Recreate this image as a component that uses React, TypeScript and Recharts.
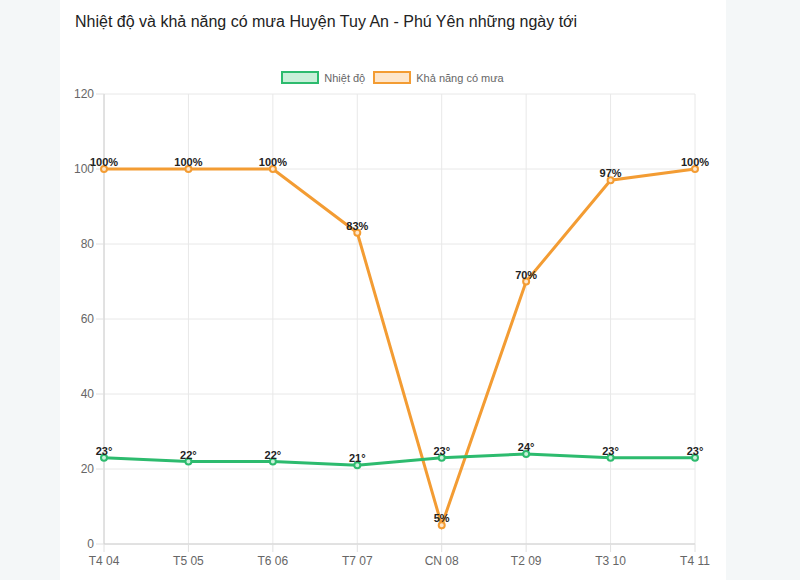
import React from "react";
import {
  LineChart,
  Line,
  XAxis,
  YAxis,
  CartesianGrid,
  LabelList,
} from "recharts";

const days = ["T4 04", "T5 05", "T6 06", "T7 07", "CN 08", "T2 09", "T3 10", "T4 11"];
const temperature = [23, 22, 22, 21, 23, 24, 23, 23];
const rainChance = [100, 100, 100, 83, 5, 70, 97, 100];
const yTicks = [0, 20, 40, 60, 80, 100, 120];

const GREEN = "#2dbb6e";
const GREEN_FILL = "#c9f0d9";
const ORANGE = "#f39c33";
const ORANGE_FILL = "#fde6cc";
const FONT = "'Liberation Sans', Arial, Helvetica, sans-serif";

const data = days.map((day, i) => ({
  day,
  temp: temperature[i],
  rain: rainChance[i],
}));

function LegendBox() {
  const items = [
    { label: "Nhiệt độ", stroke: GREEN, fill: GREEN_FILL },
    { label: "Khả năng có mưa", stroke: ORANGE, fill: ORANGE_FILL },
  ];
  return (
    <div
      style={{
        position: "absolute",
        left: 0,
        top: 71,
        width: 785,
        display: "flex",
        justifyContent: "center",
        gap: 8,
        fontFamily: FONT,
        fontSize: 11,
        color: "#666",
      }}
    >
      {items.map((it) => (
        <div key={it.label} style={{ display: "flex", alignItems: "center" }}>
          <span
            style={{
              display: "inline-block",
              width: 34,
              height: 9,
              border: `2px solid ${it.stroke}`,
              background: it.fill,
              marginRight: 5,
            }}
          />
          <span>{it.label}</span>
        </div>
      ))}
    </div>
  );
}

export default function App() {
  return (
    <div
      style={{
        position: "absolute",
        left: 0,
        top: 0,
        width: 800,
        height: 580,
        background: "#f4f7f8",
        overflow: "hidden",
      }}
    >
      <div style={{ position: "absolute", left: 60, top: 0, width: 666, height: 580, background: "#fff" }} />
      <div
        style={{
          position: "absolute",
          left: 75,
          top: 13,
          fontFamily: FONT,
          fontSize: 16,
          color: "#222",
          whiteSpace: "nowrap",
        }}
      >
        Nhiệt độ và khả năng có mưa Huyện Tuy An - Phú Yên những ngày tới
      </div>
      <LegendBox />
      <div style={{ position: "absolute", left: 0, top: 0 }}>
        <LineChart width={800} height={580} data={data} margin={{ top: 94, right: 105, left: 64, bottom: 6 }}>
          <CartesianGrid stroke="#e8e8e8" />
          <XAxis
            dataKey="day"
            height={30}
            tickSize={8}
            tickMargin={4}
            tick={{ fontSize: 12, fill: "#666", fontFamily: FONT }}
            axisLine={{ stroke: "#d0d0d0" }}
            tickLine={{ stroke: "#e0e0e0" }}
          />
          <YAxis
            width={40}
            domain={[0, 120]}
            ticks={yTicks}
            tickSize={8}
            tick={{ fontSize: 12, fill: "#666", fontFamily: FONT }}
            axisLine={{ stroke: "#d0d0d0" }}
            tickLine={{ stroke: "#e0e0e0" }}
          />
          <Line
            dataKey="rain"
            stroke={ORANGE}
            strokeWidth={3}
            dot={{ r: 3, fill: ORANGE_FILL, stroke: ORANGE, strokeWidth: 2 }}
            isAnimationActive={false}
          >
            <LabelList
              dataKey="rain"
              position="top"
              offset={3}
              formatter={(v: number) => `${v}%`}
              style={{ fontSize: 11, fontWeight: "bold", fill: "#222", fontFamily: FONT }}
            />
          </Line>
          <Line
            dataKey="temp"
            stroke={GREEN}
            strokeWidth={3}
            dot={{ r: 3, fill: GREEN_FILL, stroke: GREEN, strokeWidth: 2 }}
            isAnimationActive={false}
          >
            <LabelList
              dataKey="temp"
              position="top"
              offset={3}
              formatter={(v: number) => `${v}°`}
              style={{ fontSize: 11, fontWeight: "bold", fill: "#222", fontFamily: FONT }}
            />
          </Line>
        </LineChart>
      </div>
    </div>
  );
}
